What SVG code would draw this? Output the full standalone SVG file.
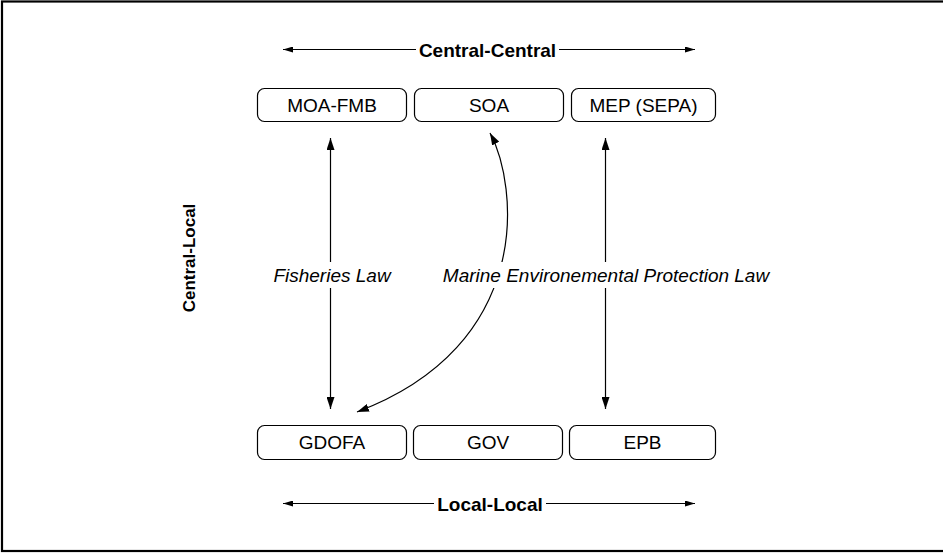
<svg xmlns="http://www.w3.org/2000/svg" width="943" height="553" viewBox="0 0 943 553">
  <style>
    .box { fill: #fff; stroke: #000; stroke-width: 1.2; }
    .lbl { font-family: "Liberation Sans", Arial, sans-serif; font-size: 19px; fill: #000; text-anchor: middle; }
    .axis { font-family: "Liberation Sans", Arial, sans-serif; font-size: 19px; font-weight: bold; fill: #000; text-anchor: middle; }
    .law { font-family: "Liberation Sans", Arial, sans-serif; font-size: 19px; font-style: italic; fill: #000; text-anchor: middle; }
    .ln { fill: none; stroke: #000; stroke-width: 1.2; }
  </style>
  <defs>
    <marker id="hs" viewBox="0 0 10 6" refX="10" refY="3" markerWidth="10" markerHeight="6" markerUnits="userSpaceOnUse" orient="auto-start-reverse">
      <path d="M0,0 L10,3 L0,6 Z" fill="#000"/>
    </marker>
    <marker id="hl" viewBox="0 0 12 8" refX="12" refY="4" markerWidth="12" markerHeight="8" markerUnits="userSpaceOnUse" orient="auto-start-reverse">
      <path d="M0,0 L12,4 L0,8 Z" fill="#000"/>
    </marker>
  </defs>
  <rect x="0" y="0" width="943" height="553" fill="#fff"/>
  <!-- frame (right edge runs past the canvas) -->
  <rect x="2" y="1.5" width="945" height="549.5" fill="none" stroke="#000" stroke-width="2.2"/>

  <!-- connectors -->
  <g id="connectors">
    <line class="ln" x1="283" y1="49.5" x2="416" y2="49.5" marker-start="url(#hs)"/>
    <line class="ln" x1="559" y1="49.5" x2="695" y2="49.5" marker-end="url(#hs)"/>
    <line class="ln" x1="283" y1="503.5" x2="434" y2="503.5" marker-start="url(#hs)"/>
    <line class="ln" x1="546" y1="503.5" x2="695" y2="503.5" marker-end="url(#hs)"/>

    <line class="ln" x1="330.5" y1="138" x2="330.5" y2="262" marker-start="url(#hl)"/>
    <line class="ln" x1="330.5" y1="288" x2="330.5" y2="409" marker-end="url(#hl)"/>
    <line class="ln" x1="605.5" y1="138" x2="605.5" y2="262" marker-start="url(#hl)"/>
    <line class="ln" x1="605.5" y1="288" x2="605.5" y2="409" marker-end="url(#hl)"/>

    <path class="ln" d="M490,133 C518,185 535,345 357,412" marker-start="url(#hl)" marker-end="url(#hl)"/>
  </g>

  <!-- axis labels -->
  <text class="axis" x="487.5" y="56.5">Central-Central</text>
  <text class="axis" x="490" y="510.5">Local-Local</text>
  <text class="axis" style="font-size:17px" transform="translate(195,258) rotate(-90)" x="0" y="0">Central-Local</text>

  <!-- law labels -->
  <rect x="440" y="262" width="334" height="26" fill="#fff"/>
  <text class="law" x="332" y="282">Fisheries Law</text>
  <text class="law" x="606" y="282">Marine Environemental Protection Law</text>

  <!-- central agencies -->
  <g id="moa-fmb">
    <rect class="box" x="257.5" y="88.5" width="149" height="33" rx="7"/>
    <text class="lbl" x="332" y="112">MOA-FMB</text>
  </g>
  <g id="soa">
    <rect class="box" x="414.5" y="88.5" width="149" height="33" rx="7"/>
    <text class="lbl" x="489" y="112">SOA</text>
  </g>
  <g id="mep">
    <rect class="box" x="571.5" y="88.5" width="144" height="33" rx="7"/>
    <text class="lbl" x="643.5" y="112">MEP (SEPA)</text>
  </g>

  <!-- local agencies -->
  <g id="gdofa">
    <rect class="box" x="257.5" y="425.5" width="149" height="34" rx="7"/>
    <text class="lbl" x="332" y="449">GDOFA</text>
  </g>
  <g id="gov">
    <rect class="box" x="413.5" y="425.5" width="149" height="34" rx="7"/>
    <text class="lbl" x="488" y="449">GOV</text>
  </g>
  <g id="epb">
    <rect class="box" x="569.5" y="425.5" width="146" height="34" rx="7"/>
    <text class="lbl" x="642.5" y="449">EPB</text>
  </g>
</svg>
